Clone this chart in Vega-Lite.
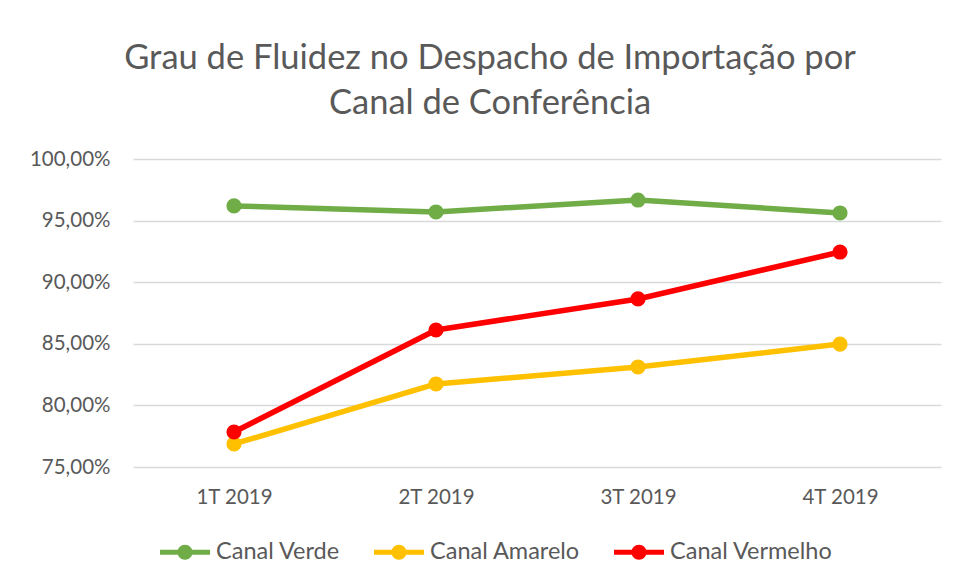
{
  "$schema": "https://vega.github.io/schema/vega-lite/v6.json",
  "width": 808,
  "height": 308,
  "autosize": {"type": "none"},
  "padding": {"left": 133, "top": 159, "right": 16, "bottom": 114},
  "background": "white",
  "config": {
    "locale": {"number": {"decimal": ",", "thousands": ".", "grouping": [3], "currency": ["R$", ""]}},
    "view": {"stroke": null},
    "font": "Lato"
  },
  "title": {
    "text": ["Grau de Fluidez no Despacho de Importação por", "Canal de Conferência"],
    "fontSize": 34.5,
    "font": "Lato",
    "fontWeight": "normal",
    "color": "#595959",
    "lineHeight": 45,
    "anchor": "middle",
    "dx": -47,
    "offset": 28
  },
  "data": {
    "values": [
      {"trimestre": "1T 2019", "canal": "Canal Verde", "valor": 0.9619},
      {"trimestre": "2T 2019", "canal": "Canal Verde", "valor": 0.9570},
      {"trimestre": "3T 2019", "canal": "Canal Verde", "valor": 0.9667},
      {"trimestre": "4T 2019", "canal": "Canal Verde", "valor": 0.9562},
      {"trimestre": "1T 2019", "canal": "Canal Amarelo", "valor": 0.7687},
      {"trimestre": "2T 2019", "canal": "Canal Amarelo", "valor": 0.8174},
      {"trimestre": "3T 2019", "canal": "Canal Amarelo", "valor": 0.8312},
      {"trimestre": "4T 2019", "canal": "Canal Amarelo", "valor": 0.8498},
      {"trimestre": "1T 2019", "canal": "Canal Vermelho", "valor": 0.7784},
      {"trimestre": "2T 2019", "canal": "Canal Vermelho", "valor": 0.8612},
      {"trimestre": "3T 2019", "canal": "Canal Vermelho", "valor": 0.8864},
      {"trimestre": "4T 2019", "canal": "Canal Vermelho", "valor": 0.9245}
    ]
  },
  "encoding": {
    "x": {
      "field": "trimestre",
      "type": "ordinal",
      "scale": {"type": "point", "padding": 0.5},
      "axis": {
        "title": null,
        "labelAngle": 0,
        "domain": false,
        "ticks": false,
        "grid": false,
        "labelFont": "Lato",
        "labelFontSize": 20.5,
        "labelColor": "#595959",
        "labelPadding": 20
      }
    },
    "y": {
      "field": "valor",
      "type": "quantitative",
      "scale": {"domain": [0.75, 1.0], "nice": false, "zero": false},
      "axis": {
        "title": null,
        "format": ".2%",
        "values": [0.75, 0.8, 0.85, 0.9, 0.95, 1.0],
        "domain": false,
        "ticks": false,
        "grid": true,
        "gridColor": "#D9D9D9",
        "gridWidth": 1.3,
        "labelFont": "Lato",
        "labelFontSize": 20.5,
        "labelColor": "#595959",
        "labelPadding": 23
      }
    },
    "color": {
      "field": "canal",
      "type": "nominal",
      "scale": {
        "domain": ["Canal Verde", "Canal Amarelo", "Canal Vermelho"],
        "range": ["#70AD47", "#FFC000", "#FF0000"]
      },
      "legend": {
        "title": null,
        "orient": "none",
        "direction": "horizontal",
        "legendX": 27,
        "legendY": 368,
        "symbolType": "M-1,-0.1L1,-0.1L1,0.1L-1,0.1Z M0.3,0 A0.3,0.3 0 1,1 -0.3,0 A0.3,0.3 0 1,1 0.3,0Z",
        "symbolSize": 2500,
        "symbolStrokeWidth": 0,
        "symbolOpacity": 1,
        "labelFont": "Lato",
        "labelFontSize": 23.5,
        "labelColor": "#595959",
        "labelOffset": 6,
        "labelLimit": 400,
        "columnPadding": 34
      }
    },
    "order": {"field": "trimestre"}
  },
  "layer": [
    {
      "mark": {"type": "line", "strokeWidth": 5.5, "strokeCap": "round", "strokeJoin": "round"}
    },
    {
      "mark": {"type": "point", "filled": true, "opacity": 1, "size": 230, "shape": "circle"}
    }
  ]
}
